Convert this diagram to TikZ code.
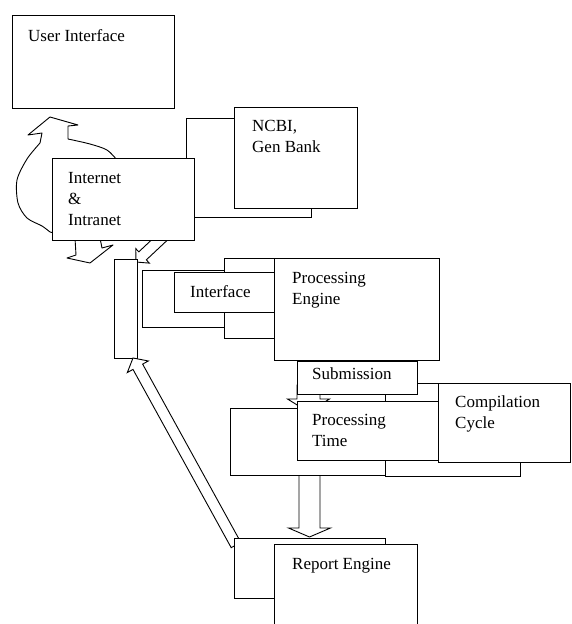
\documentclass[tikz,border=0pt]{standalone}
\usepackage{fontspec}
\setmainfont{Liberation Serif}
\usetikzlibrary{calc}
\newcommand{\txtstack}[1]{\begin{tabular}[t]{@{}l@{}}#1\end{tabular}}
% block arrow: #1 tail coord, #2 tip coord, #3 half shaft width, #4 head length, #5 half head width
\newcommand{\blockarrow}[5]{%
  \coordinate (#1-h) at ($(#2)!#4!(#1)$);
  \path[arr] ($(#1)!#3!90:(#2)$) -- ($(#1-h)!#3!90:(#2)$) -- ($(#1-h)!#5!90:(#2)$) -- (#2)
    -- ($(#1-h)!#5!-90:(#2)$) -- ($(#1-h)!#3!-90:(#2)$) -- ($(#1)!#3!-90:(#2)$) -- cycle;}
\begin{document}
\begin{tikzpicture}[x=1pt,y=-1pt,
  box/.style={draw, fill=white, line width=1.2pt, inner sep=0pt, anchor=north west},
  lbl/.style={anchor=base west, inner sep=0pt, font=\fontsize{17}{21}\selectfont},
  arr/.style={draw, fill=white, line width=0.9pt, line join=miter},
  cloud/.style={draw, fill=white, line width=0.9pt, line join=round}]
\useasboundingbox (0,0) rectangle (572,624);
\clip (0,0) rectangle (572,624);

% User Interface
\node[box, minimum width=162pt, minimum height=93pt] (ui) at (12,15) {};
\node[lbl] (t-ui) at (28,41) {User Interface};

% NCBI
\node[box, minimum width=125pt, minimum height=99pt] (ncbiback) at (186,118) {};
\node[box, minimum width=123pt, minimum height=101pt] (ncbi) at (234,107) {};
\node[lbl] (t-ncbi) at (252,131) {\txtstack{NCBI,\\Gen Bank}};

% circular arrow around Internet box
\path[cloud] (50,117) -- (78,125) -- (68,126) -- (68,139)
  -- plot[smooth] coordinates {(68,139) (90,144) (107,150) (117,160)}
  -- (117,200) -- (100,238) -- (102,248) -- (113,245) -- (90,263) -- (67,258)
  -- (76,255) -- (75,238) -- (50,232)
  -- plot[smooth] coordinates {(50,232) (42,226) (27,218) (18,203) (17,180) (27,159) (40,143)}
  -- (42,133) -- (28,135) -- cycle;

% arrow Internet -> bar
\coordinate (ia) at (168,232);
\coordinate (ib) at (136,262);
\blockarrow{ia}{ib}{5.5pt}{9pt}{10pt}

% Internet & Intranet
\node[box, minimum width=142pt, minimum height=82pt] (inet) at (52,158) {};
\node[lbl] (t-inet) at (68,183) {\txtstack{Internet\\\&\\Intranet}};

% vertical bar
\node[box, minimum width=23pt, minimum height=99pt] (bar) at (114,259) {};

% Interface group
\node[box, minimum width=90pt, minimum height=57pt] (ifback) at (142,270) {};
\node[box, minimum width=50pt, minimum height=80pt] (ifmid) at (224,258) {};
\node[box, minimum width=100pt, minimum height=40pt] (iface) at (174,272) {};
\node[lbl] (t-iface) at (190,297) {Interface};

% Processing Engine
\node[box, minimum width=165pt, minimum height=102pt] (peng) at (274,258) {};
\node[lbl] (t-peng) at (292,283) {\txtstack{Processing\\Engine}};

% down arrow to report engine
\coordinate (da) at (309.5,465);
\coordinate (db) at (309.5,537);
\blockarrow{da}{db}{10.5pt}{9pt}{21pt}

% Processing time back, compilation back, compilation cycle
\node[box, minimum width=160pt, minimum height=67pt] (ptback) at (230,408) {};
\node[box, minimum width=135pt, minimum height=93pt] (ccback) at (385,383) {};
\node[box, minimum width=132pt, minimum height=79pt] (comp) at (438,383) {};
\node[lbl] (t-comp) at (455,407) {\txtstack{Compilation\\Cycle}};

% submission arrow
\coordinate (sa) at (308.5,385);
\coordinate (sb) at (308.5,412);
\blockarrow{sa}{sb}{11.5pt}{13pt}{21pt}

% Submission
\node[box, minimum width=120pt, minimum height=33pt] (subm) at (297,361) {};
\node[lbl] (t-subm) at (312,379) {Submission};

% Processing Time
\node[box, minimum width=141pt, minimum height=59pt] (ptime) at (297,401) {};
\node[lbl] (t-ptime) at (312,425) {\txtstack{Processing\\Time}};

% diagonal arrow report -> bar
\coordinate (ra) at (236,545);
\coordinate (rb) at (133,358);
\blockarrow{ra}{rb}{5.5pt}{10pt}{12pt}

% Report Engine
\node[box, minimum width=151pt, minimum height=60pt] (repback) at (234,538) {};
\node[box, minimum width=143pt, minimum height=100pt] (rep) at (274,544) {};
\node[lbl] (t-rep) at (292,569) {Report Engine};
\end{tikzpicture}
\end{document}
